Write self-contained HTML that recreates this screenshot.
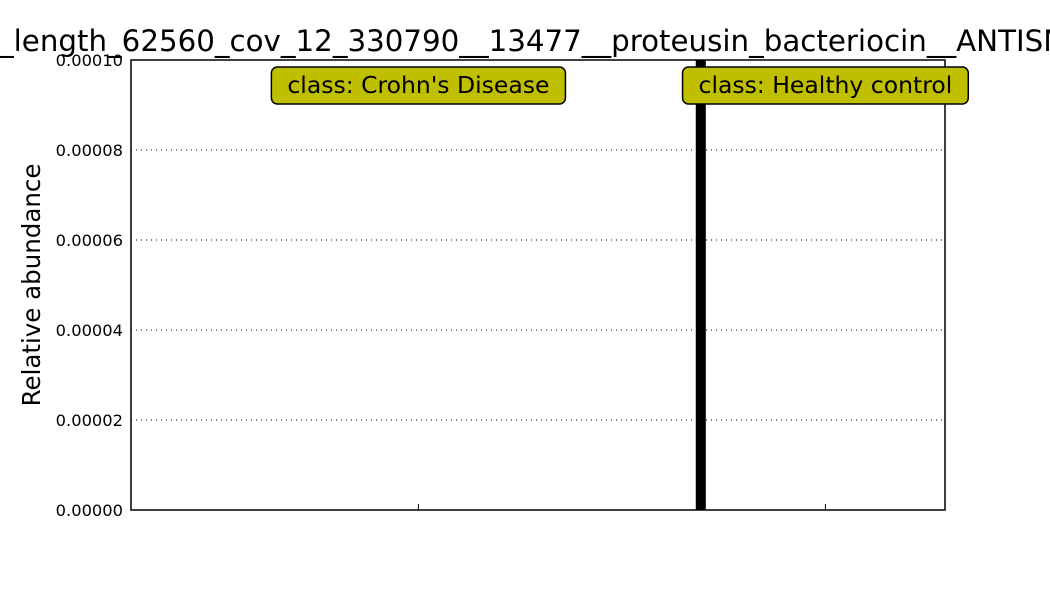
<!DOCTYPE html>
<html><head><meta charset="utf-8"><style>
html,body{margin:0;padding:0;background:#fff;width:1050px;height:600px;overflow:hidden}
text{font-family:"DejaVu Sans","Liberation Sans",sans-serif}
</style></head><body>
<svg id="chart" width="1050" height="600" viewBox="0 0 1050 600">
<text x="-1" y="51" font-size="29.3" fill="#000">_length_62560_cov_12_330790__13477__proteusin_bacteriocin__ANTISMASH</text>
<text transform="translate(40,285) rotate(-90)" text-anchor="middle" font-size="24.5">Relative abundance</text>
<g id="grid"></g>
<g id="bars"></g>
<rect x="131" y="60" width="814" height="450" fill="none" stroke="#000" stroke-width="1.5"/>
<g id="ticks"></g>
<g id="labels"></g>
</svg>
<script>
const yTicks=[0,0.00002,0.00004,0.00006,0.00008,0.0001];
const yTickLabels=["0.00000","0.00002","0.00004","0.00006","0.00008","0.00010"];
const nSamples=81;
const sampleValues=new Array(nSamples).fill(0);
sampleValues[56]=0.00015;
const classNames=["class: Crohn's Disease","class: Healthy control"];
const classStart=[0,57];
const classEnd=[57,81];
const X0=131,X1=945,Y0=510,Y1=60;
const w=(X1-X0)/nSamples;
const x=i=>X0+i*w;
const y=v=>Y0-(v/0.0001)*(Y0-Y1);
const NS="http://www.w3.org/2000/svg";
function mk(t,p,a){const e=document.createElementNS(NS,t);for(const k in a)e.setAttribute(k,a[k]);p.appendChild(e);return e;}
const grid=document.getElementById('grid'),ticks=document.getElementById('ticks'),bars=document.getElementById('bars'),labels=document.getElementById('labels');
yTicks.forEach((v,i)=>{
 if(i>0&&i<yTicks.length-1){const g=mk('line',grid,{x1:X0,x2:X1,y1:y(v),y2:y(v),stroke:'#000','stroke-width':1,'stroke-dasharray':'1,4'});
 
 }
 const t=mk('text',ticks,{x:123,y:y(v)+6,'text-anchor':'end','font-size':16.3});
 t.textContent=yTickLabels[i];
 
 
});
sampleValues.forEach((v,i)=>{
 if(v<=0)return;
 const top=Math.max(y(v),Y1);
 const b=mk('rect',bars,{x:x(i)+2,y:top,width:w,height:Y0-top,fill:'#000'});
 
 
});
classNames.forEach((c,k)=>{
 const cx=(x(classStart[k])+x(classEnd[k]))/2+1;
 const tk=mk('line',ticks,{x1:cx,x2:cx,y1:Y0,y2:Y0-6,stroke:'#000','stroke-width':1});
 
 
 const g=mk('g',labels,{});
 
 
 const t=mk('text',g,{x:cx,y:93,'text-anchor':'middle','font-size':23.5});
 t.textContent=c;
 const bw=t.getComputedTextLength()+32;
 const r=mk('rect',g,{x:cx-bw/2,y:67,width:bw,height:37,rx:6,fill:'#bfbf00',stroke:'#000','stroke-width':1.5});
 g.insertBefore(r,t);
});
</script>
</body></html>
